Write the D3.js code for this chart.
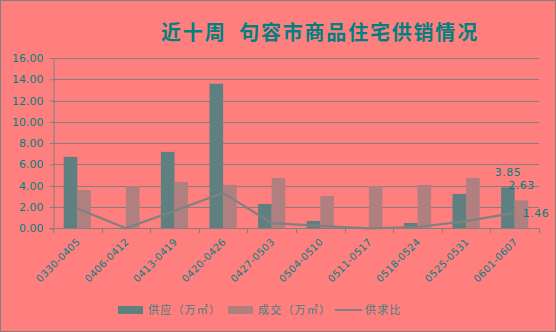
<!DOCTYPE html>
<html>
<head>
<meta charset="utf-8">
<script src="https://cdn.jsdelivr.net/npm/d3@7"></script>
<style>
  html, body { margin: 0; padding: 0; background: #ff7f7f; }
  svg { display: block; }
</style>
</head>
<body>
<svg id="chart" width="556" height="332"></svg>
<script>
/* ================================
   DATA
================================ */

const weeks = ["0330-0405", "0406-0412", "0413-0419", "0420-0426", "0427-0503",
               "0504-0510", "0511-0517", "0518-0524", "0525-0531", "0601-0607"];
const supply = [6.71, 0, 7.18, 13.58, 2.29, 0.69, 0, 0.50, 3.23, 3.85];
const deals  = [3.60, 3.98, 4.36, 4.08, 4.73, 3.04, 3.98, 4.07, 4.73, 2.63];
const ratio  = [1.86, 0, 1.65, 3.33, 0.48, 0.23, 0, 0.12, 0.68, 1.46];
const yTicks = [0, 2, 4, 6, 8, 10, 12, 14, 16];

/* ================================
   CHART
================================ */

const W = 556, H = 332;
const teal = "#008080";
const grid = "#808080";
const supplyColor = "#5f8080";
const dealColor = "#b08080";
const lineColor = "#7f8080";

const svg = d3.select("#chart");

svg.append("rect")
  .attr("x", 0.5).attr("y", 0.5)
  .attr("width", W - 1).attr("height", H - 1)
  .attr("fill", "#ff7f7f")
  .attr("stroke", "#808080");

svg.append("text")
  .attr("x", 320)
  .attr("y", 40)
  .attr("text-anchor", "middle")
  .style("white-space", "pre")
  .style("font-family", "'Noto Sans CJK SC', sans-serif")
  .style("font-size", "20px")
  .style("font-weight", "700")
  .style("letter-spacing", "1.8px")
  .style("fill", teal)
  .text("近十周  句容市商品住宅供销情况");

const x = d3.scaleBand().domain(weeks).range([53, 539]).padding(0);
const y = d3.scaleLinear().domain([0, 16]).range([228.3, 58]);

const bw = x.bandwidth();
const barW = bw * 0.28;
const groupOff = (bw - 2 * barW) / 2;

// gridlines
svg.append("g")
  .selectAll("line")
  .data(yTicks)
  .join("line")
  .attr("x1", 53).attr("x2", 539)
  .attr("y1", d => Math.round(y(d)) + 0.5)
  .attr("y2", d => Math.round(y(d)) + 0.5)
  .attr("stroke", grid)
  .attr("stroke-width", 1);

// y axis
const yAxis = svg.append("g")
  .attr("transform", "translate(53.5,0)")
  .call(d3.axisLeft(y).tickValues(yTicks).tickSize(4).tickPadding(6)
    .tickFormat(d => d3.format(".2f")(d)));
yAxis.select(".domain").attr("stroke", grid);
yAxis.selectAll(".tick line").attr("stroke", grid);
yAxis.selectAll(".tick text")
  .style("font-family", "'DejaVu Sans', sans-serif")
  .style("font-size", "11px")
  .style("fill", teal);

// bars
svg.append("g")
  .selectAll("rect")
  .data(weeks)
  .join("rect")
  .attr("x", (d) => x(d) + groupOff)
  .attr("y", (d, i) => y(supply[i]))
  .attr("width", barW)
  .attr("height", (d, i) => y(0) - y(supply[i]))
  .attr("fill", supplyColor);

svg.append("g")
  .selectAll("rect")
  .data(weeks)
  .join("rect")
  .attr("x", (d) => x(d) + groupOff + barW)
  .attr("y", (d, i) => y(deals[i]))
  .attr("width", barW)
  .attr("height", (d, i) => y(0) - y(deals[i]))
  .attr("fill", dealColor);

// x axis
const xAxisLine = svg.append("g");
xAxisLine.append("line")
  .attr("x1", 53).attr("x2", 539)
  .attr("y1", 228.5).attr("y2", 228.5)
  .attr("stroke", grid);
xAxisLine.selectAll(".xt")
  .data(weeks.concat(["end"]))
  .join("line")
  .attr("class", "xt")
  .attr("x1", (d, i) => Math.round(53 + i * bw) + 0.5)
  .attr("x2", (d, i) => Math.round(53 + i * bw) + 0.5)
  .attr("y1", 228.5).attr("y2", 233)
  .attr("stroke", grid);

svg.append("g")
  .selectAll("text")
  .data(weeks)
  .join("text")
  .attr("transform", d => `translate(${x(d) + bw / 2 + 1},${240}) rotate(-45)`)
  .attr("text-anchor", "end")
  .attr("dy", "0.35em")
  .style("font-family", "'DejaVu Sans', sans-serif")
  .style("font-size", "10px")
  .style("letter-spacing", "0.3px")
  .style("fill", teal)
  .text(d => d);

// ratio line
const line = d3.line()
  .x((d, i) => x(weeks[i]) + bw / 2)
  .y(d => y(d));

svg.append("path")
  .datum(ratio)
  .attr("d", line)
  .attr("fill", "none")
  .attr("stroke", lineColor)
  .attr("stroke-width", 2.2);

// labels on last week
const last = weeks.length - 1;
const lastX = x(weeks[last]);
const labelStyle = sel => sel
  .style("font-family", "'DejaVu Sans', sans-serif")
  .style("font-size", "11px")
  .style("letter-spacing", "0.5px")
  .style("fill", teal);

svg.append("text")
  .attr("x", lastX + groupOff + barW / 2)
  .attr("y", y(supply[last]) - 11)
  .attr("text-anchor", "middle")
  .call(labelStyle)
  .text(supply[last].toFixed(2));

svg.append("text")
  .attr("x", lastX + groupOff + barW * 1.5)
  .attr("y", y(deals[last]) - 11)
  .attr("text-anchor", "middle")
  .call(labelStyle)
  .text(deals[last].toFixed(2));

svg.append("text")
  .attr("x", lastX + bw / 2 + 8)
  .attr("y", y(ratio[last]) + 4)
  .attr("text-anchor", "start")
  .call(labelStyle)
  .text(ratio[last].toFixed(2));

// legend
const legend = [
  { name: "供应（万㎡）", type: "bar", color: supplyColor, x: 118 },
  { name: "成交（万㎡）", type: "bar", color: dealColor, x: 228 },
  { name: "供求比", type: "line", color: lineColor, x: 335 },
];

const lg = svg.append("g");
legend.forEach(d => {
  if (d.type === "bar") {
    lg.append("rect")
      .attr("x", d.x).attr("y", 306)
      .attr("width", 25).attr("height", 8)
      .attr("fill", d.color);
  } else {
    lg.append("line")
      .attr("x1", d.x).attr("x2", d.x + 27)
      .attr("y1", 310).attr("y2", 310)
      .attr("stroke", d.color)
      .attr("stroke-width", 2);
  }
  lg.append("text")
    .attr("x", d.x + 30)
    .attr("y", 314)
    .style("font-family", "'Noto Sans CJK SC', sans-serif")
    .style("font-size", "11px")
    .style("letter-spacing", "1.2px")
    .style("fill", "#408080")
    .text(d.name);
});
</script>
</body>
</html>
